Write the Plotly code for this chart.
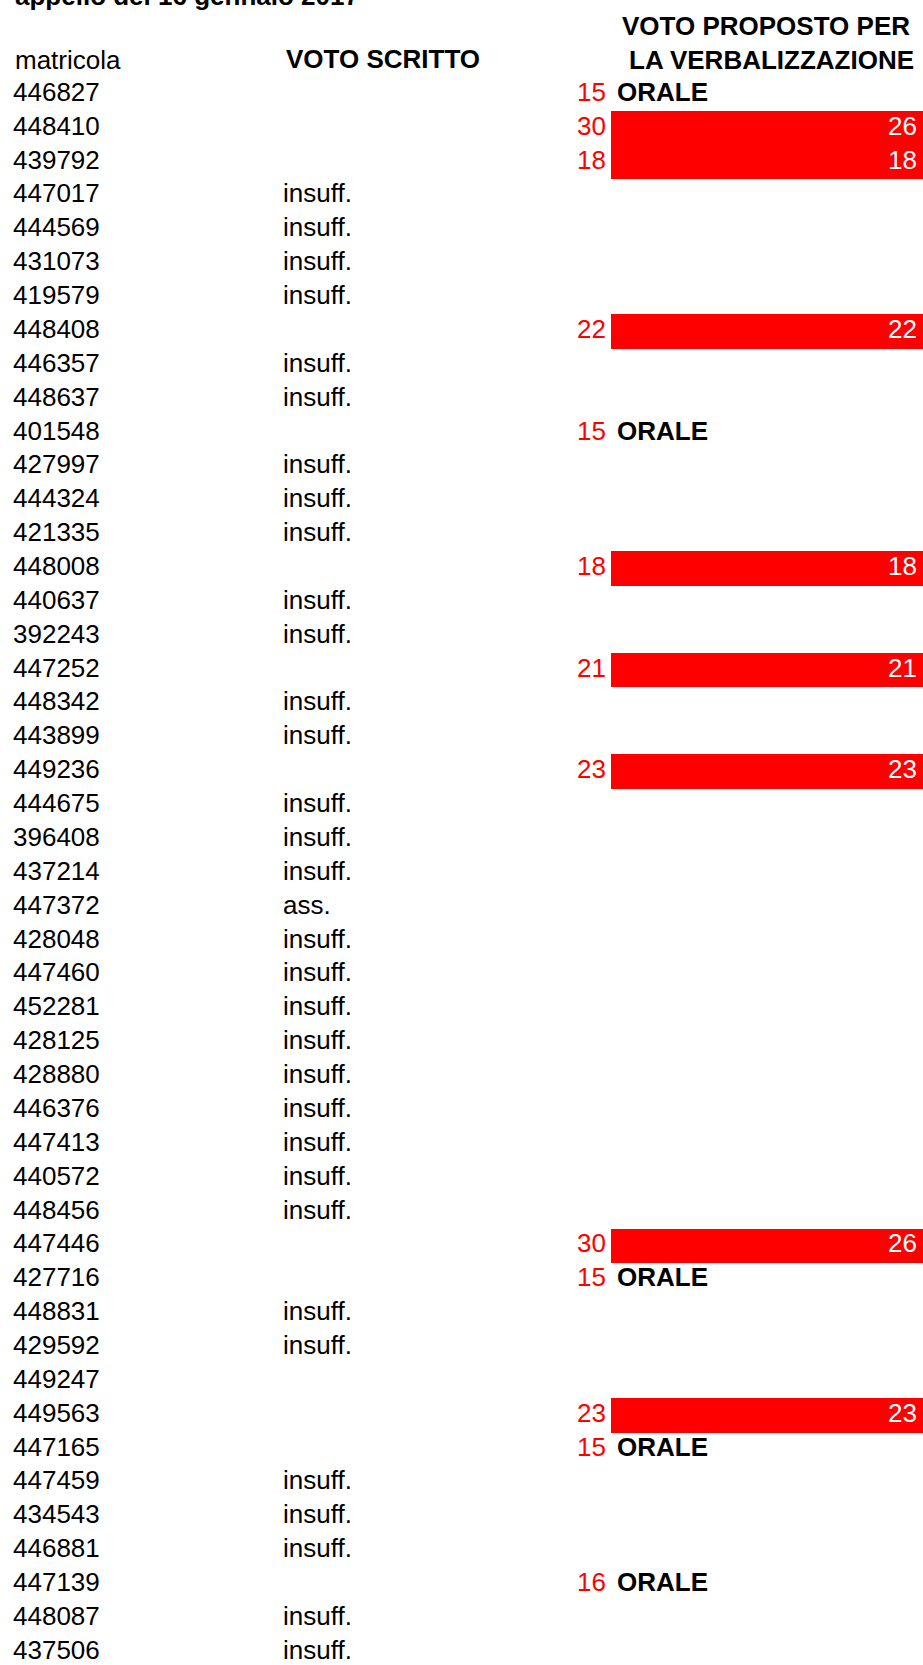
import plotly.graph_objects as go

# ---- data ----
matricole = ["446827", "448410", "439792", "447017", "444569", "431073", "419579",
             "448408", "446357", "448637", "401548", "427997", "444324", "421335",
             "448008", "440637", "392243", "447252", "448342", "443899", "449236",
             "444675", "396408", "437214", "447372", "428048", "447460", "452281",
             "428125", "428880", "446376", "447413", "440572", "448456", "447446",
             "427716", "448831", "429592", "449247", "449563", "447165", "447459",
             "434543", "446881", "447139", "448087", "437506"]
voto_scritto_txt = ["", "", "", "insuff.", "insuff.", "insuff.", "insuff.",
                    "", "insuff.", "insuff.", "", "insuff.", "insuff.", "insuff.",
                    "", "insuff.", "insuff.", "", "insuff.", "insuff.", "",
                    "insuff.", "insuff.", "insuff.", "ass.", "insuff.", "insuff.", "insuff.",
                    "insuff.", "insuff.", "insuff.", "insuff.", "insuff.", "insuff.", "",
                    "", "insuff.", "insuff.", "", "", "", "insuff.",
                    "insuff.", "insuff.", "", "insuff.", "insuff."]
# numeric written grade (red) per row, None if absent
voto_num = [15, 30, 18, None, None, None, None,
            22, None, None, 15, None, None, None,
            18, None, None, 21, None, None, 23,
            None, None, None, None, None, None, None,
            None, None, None, None, None, None, 30,
            15, None, None, None, 23, 15, None,
            None, None, 16, None, None]
# proposed grade for verbalization: number, "ORALE" or None
voto_proposto = ["ORALE", 26, 18, None, None, None, None,
                 22, None, None, "ORALE", None, None, None,
                 18, None, None, 21, None, None, 23,
                 None, None, None, None, None, None, None,
                 None, None, None, None, None, None, 26,
                 "ORALE", None, None, None, 23, "ORALE", None,
                 None, None, "ORALE", None, None]

titolo = "appello del 16 gennaio 2017"
hdr_matricola = "matricola"
hdr_scritto = "VOTO SCRITTO"
hdr_proposto_1 = "VOTO PROPOSTO PER"
hdr_proposto_2 = "LA VERBALIZZAZIONE"

# ---- layout constants ----
W, H = 923, 1665
ROW0_PX = 94.3
ROW_PX = 33.87
FONT = "Liberation Sans, Arial, sans-serif"
FS = 26
RED = "#FF0000"

y_top = -ROW0_PX / ROW_PX
y_bot = y_top + H / ROW_PX

def py(px):
    return (px - ROW0_PX) / ROW_PX

rows = list(range(len(matricole)))

fig = go.Figure()

# red bars for numeric proposed grades
bar_rows = [i for i in rows if isinstance(voto_proposto[i], int)]
fig.add_trace(go.Bar(
    orientation="h", y=bar_rows, x=[W - 611] * len(bar_rows), base=611,
    width=1.02, marker=dict(color=RED, line=dict(width=0)),
    hoverinfo="skip", showlegend=False))

# matricola column
fig.add_trace(go.Scatter(
    x=[13] * len(rows), y=rows, mode="text", text=matricole,
    textposition="middle right",
    textfont=dict(family=FONT, size=FS, color="#000000"),
    hoverinfo="skip", showlegend=False))

# voto scritto (text)
sc_rows = [i for i in rows if voto_scritto_txt[i]]
fig.add_trace(go.Scatter(
    x=[283] * len(sc_rows), y=sc_rows, mode="text",
    text=[voto_scritto_txt[i] for i in sc_rows],
    textposition="middle right",
    textfont=dict(family=FONT, size=FS, color="#000000"),
    hoverinfo="skip", showlegend=False))

# red numeric grades
num_rows = [i for i in rows if voto_num[i] is not None]
fig.add_trace(go.Scatter(
    x=[606] * len(num_rows), y=num_rows, mode="text",
    text=[str(voto_num[i]) for i in num_rows],
    textposition="middle left",
    textfont=dict(family=FONT, size=FS, color=RED),
    hoverinfo="skip", showlegend=False))

# ORALE labels
or_rows = [i for i in rows if voto_proposto[i] == "ORALE"]
fig.add_trace(go.Scatter(
    x=[617] * len(or_rows), y=or_rows, mode="text",
    text=["<b>ORALE</b>"] * len(or_rows),
    textposition="middle right",
    textfont=dict(family=FONT, size=FS, color="#000000"),
    hoverinfo="skip", showlegend=False))

# white proposed grades inside bars
fig.add_trace(go.Scatter(
    x=[917] * len(bar_rows), y=bar_rows, mode="text",
    text=[str(voto_proposto[i]) for i in bar_rows],
    textposition="middle left",
    textfont=dict(family=FONT, size=FS, color="#FFFFFF"),
    hoverinfo="skip", showlegend=False))

ann = []
ann.append(dict(text="<b>" + titolo + "</b>", xref="x", yref="paper", x=13, y=1,
                xanchor="left", yanchor="middle", yshift=4, showarrow=False,
                font=dict(family=FONT, size=FS, color="#000000")))
ann.append(dict(text=hdr_matricola, xref="x", yref="y", x=13, y=py(60),
                xanchor="left", yanchor="middle", showarrow=False,
                font=dict(family=FONT, size=FS, color="#000000")))
ann.append(dict(text="<b>" + hdr_scritto + "</b>", xref="x", yref="y", x=383, y=py(59),
                xanchor="center", yanchor="middle", showarrow=False,
                font=dict(family=FONT, size=FS, color="#000000")))
ann.append(dict(text="<b>" + hdr_proposto_1 + "</b>", xref="x", yref="y", x=766, y=py(26),
                xanchor="center", yanchor="middle", showarrow=False,
                font=dict(family=FONT, size=FS, color="#000000")))
ann.append(dict(text="<b>" + hdr_proposto_2 + "</b>", xref="x", yref="y", x=771, y=py(60),
                xanchor="center", yanchor="middle", showarrow=False,
                font=dict(family=FONT, size=FS, color="#000000")))

fig.update_layout(
    width=W, height=H, margin=dict(l=0, r=0, t=0, b=0, pad=0),
    paper_bgcolor="#FFFFFF", plot_bgcolor="#FFFFFF",
    bargap=0, showlegend=False, annotations=ann,
    xaxis=dict(range=[0, W], visible=False, fixedrange=True),
    yaxis=dict(range=[y_bot, y_top], visible=False, fixedrange=True),
)

fig.write_html(
    "out.html",
    config={"displayModeBar": False},
    post_script="document.body.style.margin='0';document.body.style.overflow='hidden';",
)
